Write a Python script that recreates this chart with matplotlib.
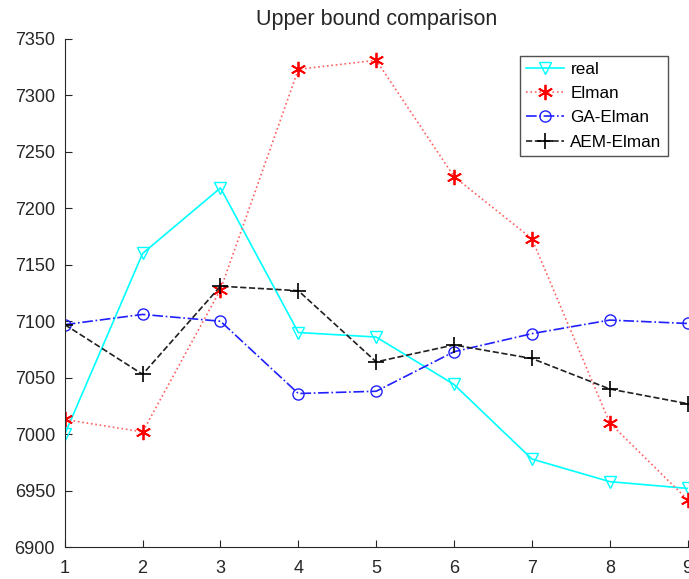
import matplotlib
matplotlib.use("Agg")
import matplotlib.pyplot as plt

plt.rcParams['font.family'] = ['Liberation Sans', 'DejaVu Sans']

x = [1, 2, 3, 4, 5, 6, 7, 8, 9]
real = [7000, 7160, 7218, 7090, 7086, 7044, 6978, 6958, 6952]
elman = [7013, 7002, 7128, 7323, 7331, 7228, 7173, 7010, 6942]
ga_elman = [7097, 7106, 7100, 7036, 7038, 7073, 7089, 7101, 7098]
aem_elman = [7097, 7053, 7131, 7127, 7064, 7079, 7067, 7040, 7027]
yticks = [6900, 6950, 7000, 7050, 7100, 7150, 7200, 7250, 7300, 7350]

fig = plt.figure(figsize=(6.89, 5.79), dpi=100)
ax = fig.add_axes([0.094, 0.055, 0.904, 0.878])

ax.plot(x, real, color='#00ffff', linestyle='-', marker='v', markersize=9,
        markerfacecolor='none', markeredgecolor='#00ffff', linewidth=1.2, label='real')
ax.plot(x, elman, color='#ff6060', linestyle=':', marker=(6, 2, 0), markersize=11,
        markeredgewidth=1.3, markeredgecolor='red', linewidth=1.2, label='Elman')
ax.plot(x, ga_elman, color='#2020ff', linestyle='-.', marker='o', markersize=8,
        markerfacecolor='none', markeredgecolor='#2020ff', linewidth=1.2, label='GA-Elman')
ax.plot(x, aem_elman, color='#202020', linestyle='--', marker='+', markersize=11,
        markeredgewidth=1.2, markeredgecolor='black', linewidth=1.2, label='AEM-Elman')

ax.set_xlim(1, 9)
ax.set_ylim(6900, 7350)
ax.set_xticks(x)
ax.set_yticks(yticks)
for s in ['top', 'right']:
    ax.spines[s].set_visible(False)
for s in ['left', 'bottom']:
    ax.spines[s].set_color('#262626')
ax.tick_params(direction='in', length=5, labelsize=13, colors='#262626')
ax.tick_params(axis='y', pad=7)
ax.tick_params(axis='x', pad=9)
ax.set_title('Upper bound comparison', fontsize=15.5, color='#262626', pad=10)

leg = ax.legend(loc='upper right', bbox_to_anchor=(0.968, 0.967), borderaxespad=0,
                fontsize=12.3, frameon=True, fancybox=False, edgecolor='#262626',
                handlelength=2.2, handletextpad=0.4, borderpad=0.35, labelspacing=0.55)
leg.get_frame().set_linewidth(1.0)

fig.savefig('out.png', dpi=100)
